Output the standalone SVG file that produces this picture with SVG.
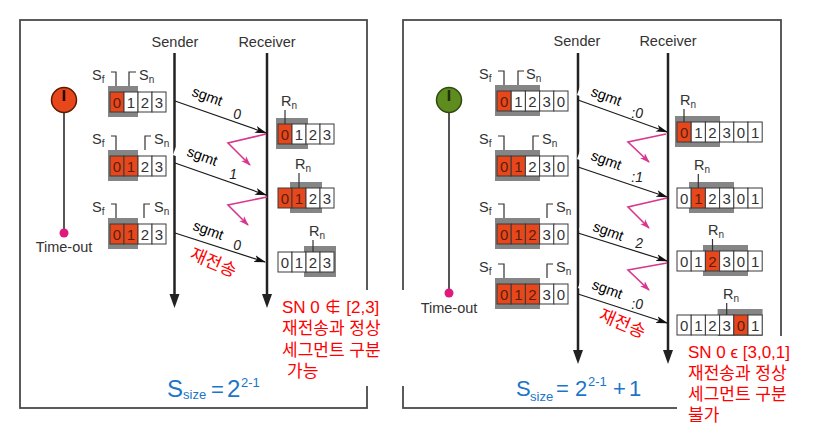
<svg xmlns="http://www.w3.org/2000/svg" width="818" height="442" viewBox="0 0 818 442">
<defs>
<marker id="ah" markerWidth="12" markerHeight="8" refX="11" refY="4" orient="auto" markerUnits="userSpaceOnUse"><path d="M0,0.5 L12,4 L0,7.5 L3,4 z" fill="#111"/></marker>
<marker id="am" markerWidth="10" markerHeight="8" refX="9" refY="4" orient="auto" markerUnits="userSpaceOnUse"><path d="M0,0.5 L10,4 L0,7.5 L2.5,4 z" fill="#d9368f"/></marker>
</defs>
<style>
.panel{fill:none;stroke:#4a4a4a;stroke-width:1.8}
.lbl{font-family:"Liberation Sans",Arial,sans-serif;fill:#333;font-size:14.5px}
.lblm{font-family:"Liberation Sans",Arial,sans-serif;fill:#333;font-size:14.5px;text-anchor:middle}
.sub{font-size:10px}
.dig{font-family:"Liberation Sans",Arial,sans-serif;font-size:15px;fill:#333;text-anchor:middle}
.dr{fill:#5a1e0e}
.box{fill:#fff;stroke:#3a3a3a;stroke-width:1}
.rb{fill:#e8471b;stroke:#3a3a3a;stroke-width:1}
.win{fill:#858585}
.brk{fill:none;stroke:#333;stroke-width:1.2}
.life{stroke:#222;stroke-width:2.5}
.head{fill:#222}
.seg{stroke:#1a1a1a;stroke-width:1.2;fill:none;marker-end:url(#ah)}
.ack{stroke:#d9368f;stroke-width:1.6;fill:none;marker-end:url(#am)}
.sg{font-family:"Liberation Sans",Arial,sans-serif;font-size:14.5px;fill:#000;text-anchor:middle}
.num{font-family:"Liberation Sans",Arial,sans-serif;font-size:14px;font-style:italic;fill:#222;text-anchor:end}
.kr{font-family:"Liberation Sans","Noto Sans CJK KR",sans-serif;fill:#ff0000;font-size:17px}
.krs{font-family:"Noto Sans CJK KR",sans-serif;fill:#ff0000;font-size:17.5px;text-anchor:middle}
.blue{font-family:"Liberation Sans",Arial,sans-serif;fill:#1b75c9}
.tl{stroke:#555;stroke-width:2}
.dot{fill:#e0197d}
.wb{fill:#fff}
</style>

<!-- panels -->
<rect class="panel" x="20" y="20" width="347" height="388"/>
<rect class="panel" x="403" y="20" width="378" height="388"/>

<!-- ============ LEFT PANEL ============ -->
<g id="left-timer">
<line class="tl" x1="64" y1="110" x2="64" y2="233"/>
<circle cx="64" cy="100" r="12.5" fill="#e8471b" stroke="#5a1a00" stroke-width="1.5"/>
<line x1="64" y1="90" x2="64" y2="101" stroke="#2a0a00" stroke-width="2.5"/>
<circle class="dot" cx="64" cy="233" r="4.5"/>
<text class="lblm" x="64" y="252">Time-out</text>
</g>

<g id="left-sender">
<text class="lblm" x="175" y="47">Sender</text>
<line class="life" x1="174.5" y1="53" x2="174.5" y2="296"/>
<polygon class="head" points="169.5,294 179.5,294 174.5,308"/>
</g>
<g id="left-receiver">
<text class="lblm" x="267" y="47">Receiver</text>
<line class="life" x1="267" y1="53" x2="267" y2="296"/>
<polygon class="head" points="262,294 272,294 267,308"/>
</g>

<g id="left-sw1">
<rect class="win" x="108" y="86" width="30" height="31"/>
<rect class="rb" x="110" y="92" width="14" height="20"/><rect class="box" x="124" y="92" width="14" height="20"/><rect class="box" x="138" y="92" width="14" height="20"/><rect class="box" x="152" y="92" width="14" height="20"/>
<text class="dig" y="107.5"><tspan class="dr" x="117">0</tspan><tspan x="131">1</tspan><tspan x="145">2</tspan><tspan x="159">3</tspan></text>
<path class="brk" d="M111,72 H116 V86"/><path class="brk" d="M136,72 H129 V86"/>
<text class="lbl" x="92" y="80">S<tspan class="sub" dy="3">f</tspan></text>
<text class="lbl" x="139" y="80">S<tspan class="sub" dy="3">n</tspan></text>
</g>
<g id="left-sw2">
<rect class="win" x="108" y="150" width="30" height="31"/>
<rect class="rb" x="110" y="156" width="14" height="20"/><rect class="rb" x="124" y="156" width="14" height="20"/><rect class="box" x="138" y="156" width="14" height="20"/><rect class="box" x="152" y="156" width="14" height="20"/>
<text class="dig" y="171.5"><tspan class="dr" x="117">0</tspan><tspan class="dr" x="131">1</tspan><tspan x="145">2</tspan><tspan x="159">3</tspan></text>
<path class="brk" d="M111,136 H116 V150"/><path class="brk" d="M151,136 H145 V150"/>
<text class="lbl" x="92" y="144">S<tspan class="sub" dy="3">f</tspan></text>
<text class="lbl" x="154" y="144">S<tspan class="sub" dy="3">n</tspan></text>
</g>
<g id="left-sw3">
<rect class="win" x="108" y="218" width="30" height="31"/>
<rect class="rb" x="110" y="224" width="14" height="20"/><rect class="rb" x="124" y="224" width="14" height="20"/><rect class="box" x="138" y="224" width="14" height="20"/><rect class="box" x="152" y="224" width="14" height="20"/>
<text class="dig" y="239.5"><tspan class="dr" x="117">0</tspan><tspan class="dr" x="131">1</tspan><tspan x="145">2</tspan><tspan x="159">3</tspan></text>
<path class="brk" d="M111,204 H116 V218"/><path class="brk" d="M150,204 H144 V218"/>
<text class="lbl" x="92" y="212">S<tspan class="sub" dy="3">f</tspan></text>
<text class="lbl" x="154" y="212">S<tspan class="sub" dy="3">n</tspan></text>
</g>

<g id="left-rw1">
<rect class="win" x="276" y="118" width="32" height="31"/>
<rect class="rb" x="278" y="124" width="14" height="20"/><rect class="box" x="292" y="124" width="14" height="20"/><rect class="box" x="306" y="124" width="14" height="20"/><rect class="box" x="320" y="124" width="14" height="20"/>
<text class="dig" y="139.5"><tspan class="dr" x="285">0</tspan><tspan x="299">1</tspan><tspan x="313">2</tspan><tspan x="327">3</tspan></text>
<path class="brk" d="M285,110 V124"/>
<text class="lbl" x="281" y="106">R<tspan class="sub" dy="3">n</tspan></text>
</g>
<g id="left-rw2">
<rect class="win" x="290" y="182" width="32" height="31"/>
<rect class="rb" x="278" y="188" width="14" height="20"/><rect class="rb" x="292" y="188" width="14" height="20"/><rect class="box" x="306" y="188" width="14" height="20"/><rect class="box" x="320" y="188" width="14" height="20"/>
<text class="dig" y="203.5"><tspan class="dr" x="285">0</tspan><tspan class="dr" x="299">1</tspan><tspan x="313">2</tspan><tspan x="327">3</tspan></text>
<path class="brk" d="M299,173 V188"/>
<text class="lbl" x="295" y="169">R<tspan class="sub" dy="3">n</tspan></text>
</g>
<g id="left-rw3">
<rect class="win" x="304" y="246" width="32" height="31"/>
<rect class="box" x="278" y="252" width="14" height="20"/><rect class="box" x="292" y="252" width="14" height="20"/><rect class="box" x="306" y="252" width="14" height="20"/><rect class="box" x="320" y="252" width="14" height="20"/>
<text class="dig" y="267.5"><tspan x="285">0</tspan><tspan x="299">1</tspan><tspan x="313">2</tspan><tspan x="327">3</tspan></text>
<path class="brk" d="M313,240 V252"/>
<text class="lbl" x="309" y="236">R<tspan class="sub" dy="3">n</tspan></text>
</g>

<!-- ============ RIGHT PANEL ============ -->
<g id="right-timer">
<line class="tl" x1="449" y1="110" x2="449" y2="293"/>
<circle cx="449" cy="100" r="12.5" fill="#5e8c1f" stroke="#2f4a10" stroke-width="1.5"/>
<line x1="449" y1="90" x2="449" y2="101" stroke="#1f2f08" stroke-width="2.5"/>
<circle class="dot" cx="449" cy="293" r="4.5"/>
<text class="lblm" x="449" y="313">Time-out</text>
</g>

<g id="right-sender">
<text class="lblm" x="577" y="46">Sender</text>
<line class="life" x1="578" y1="53" x2="578" y2="352"/>
<polygon class="head" points="573,350 583,350 578,364"/>
</g>
<g id="right-receiver">
<text class="lblm" x="668" y="46">Receiver</text>
<line class="life" x1="668" y1="53" x2="668" y2="352"/>
<polygon class="head" points="663,350 673,350 668,364"/>
</g>

<g id="right-sw1">
<rect class="win" x="495" y="85" width="45" height="31"/>
<rect class="rb" x="497" y="91" width="14.2" height="20"/><rect class="box" x="511.2" y="91" width="14.2" height="20"/><rect class="box" x="525.4" y="91" width="14.2" height="20"/><rect class="box" x="539.6" y="91" width="14.2" height="20"/><rect class="box" x="553.8" y="91" width="14.2" height="20"/>
<text class="dig" y="106.5"><tspan class="dr" x="504.1">0</tspan><tspan x="518.3">1</tspan><tspan x="532.5">2</tspan><tspan x="546.7">3</tspan><tspan x="560.9">0</tspan></text>
<path class="brk" d="M498,71 H504 V85"/><path class="brk" d="M524,71 H518 V85"/>
<text class="lbl" x="479" y="79">S<tspan class="sub" dy="3">f</tspan></text>
<text class="lbl" x="526" y="79">S<tspan class="sub" dy="3">n</tspan></text>
</g>
<g id="right-sw2">
<rect class="win" x="495" y="150" width="45" height="31"/>
<rect class="rb" x="497" y="156" width="14.2" height="20"/><rect class="rb" x="511.2" y="156" width="14.2" height="20"/><rect class="box" x="525.4" y="156" width="14.2" height="20"/><rect class="box" x="539.6" y="156" width="14.2" height="20"/><rect class="box" x="553.8" y="156" width="14.2" height="20"/>
<text class="dig" y="171.5"><tspan class="dr" x="504.1">0</tspan><tspan class="dr" x="518.3">1</tspan><tspan x="532.5">2</tspan><tspan x="546.7">3</tspan><tspan x="560.9">0</tspan></text>
<path class="brk" d="M498,136 H504 V150"/><path class="brk" d="M539,136 H533 V150"/>
<text class="lbl" x="479" y="144">S<tspan class="sub" dy="3">f</tspan></text>
<text class="lbl" x="542" y="144">S<tspan class="sub" dy="3">n</tspan></text>
</g>
<g id="right-sw3">
<rect class="win" x="495" y="218" width="45" height="31"/>
<rect class="rb" x="497" y="224" width="14.2" height="20"/><rect class="rb" x="511.2" y="224" width="14.2" height="20"/><rect class="rb" x="525.4" y="224" width="14.2" height="20"/><rect class="box" x="539.6" y="224" width="14.2" height="20"/><rect class="box" x="553.8" y="224" width="14.2" height="20"/>
<text class="dig" y="239.5"><tspan class="dr" x="504.1">0</tspan><tspan class="dr" x="518.3">1</tspan><tspan class="dr" x="532.5">2</tspan><tspan x="546.7">3</tspan><tspan x="560.9">0</tspan></text>
<path class="brk" d="M498,204 H504 V218"/><path class="brk" d="M553,204 H547 V218"/>
<text class="lbl" x="479" y="212">S<tspan class="sub" dy="3">f</tspan></text>
<text class="lbl" x="556" y="212">S<tspan class="sub" dy="3">n</tspan></text>
</g>
<g id="right-sw4">
<rect class="win" x="495" y="278" width="45" height="31"/>
<rect class="rb" x="497" y="284" width="14.2" height="20"/><rect class="rb" x="511.2" y="284" width="14.2" height="20"/><rect class="rb" x="525.4" y="284" width="14.2" height="20"/><rect class="box" x="539.6" y="284" width="14.2" height="20"/><rect class="box" x="553.8" y="284" width="14.2" height="20"/>
<text class="dig" y="299.5"><tspan class="dr" x="504.1">0</tspan><tspan class="dr" x="518.3">1</tspan><tspan class="dr" x="532.5">2</tspan><tspan x="546.7">3</tspan><tspan x="560.9">0</tspan></text>
<path class="brk" d="M498,264 H504 V278"/><path class="brk" d="M553,264 H547 V278"/>
<text class="lbl" x="479" y="272">S<tspan class="sub" dy="3">f</tspan></text>
<text class="lbl" x="556" y="272">S<tspan class="sub" dy="3">n</tspan></text>
</g>

<g id="right-rw1">
<rect class="win" x="675" y="116" width="45" height="31"/>
<rect class="rb" x="677" y="122" width="14.2" height="20"/><rect class="box" x="691.2" y="122" width="14.2" height="20"/><rect class="box" x="705.4" y="122" width="14.2" height="20"/><rect class="box" x="719.6" y="122" width="14.2" height="20"/><rect class="box" x="733.8" y="122" width="14.2" height="20"/><rect class="box" x="748" y="122" width="14.2" height="20"/>
<text class="dig" y="137.5"><tspan class="dr" x="684.1">0</tspan><tspan x="698.3">1</tspan><tspan x="712.5">2</tspan><tspan x="726.7">3</tspan><tspan x="740.9">0</tspan><tspan x="755.1">1</tspan></text>
<path class="brk" d="M684,109 V122"/>
<text class="lbl" x="680" y="105">R<tspan class="sub" dy="3">n</tspan></text>
</g>
<g id="right-rw2">
<rect class="win" x="689" y="182" width="45" height="31"/>
<rect class="box" x="677" y="188" width="14.2" height="20"/><rect class="rb" x="691.2" y="188" width="14.2" height="20"/><rect class="box" x="705.4" y="188" width="14.2" height="20"/><rect class="box" x="719.6" y="188" width="14.2" height="20"/><rect class="box" x="733.8" y="188" width="14.2" height="20"/><rect class="box" x="748" y="188" width="14.2" height="20"/>
<text class="dig" y="203.5"><tspan x="684.1">0</tspan><tspan class="dr" x="698.3">1</tspan><tspan x="712.5">2</tspan><tspan x="726.7">3</tspan><tspan x="740.9">0</tspan><tspan x="755.1">1</tspan></text>
<path class="brk" d="M698.3,174 V188"/>
<text class="lbl" x="694" y="170">R<tspan class="sub" dy="3">n</tspan></text>
</g>
<g id="right-rw3">
<rect class="win" x="703" y="245" width="45" height="31"/>
<rect class="box" x="677" y="251" width="14.2" height="20"/><rect class="box" x="691.2" y="251" width="14.2" height="20"/><rect class="rb" x="705.4" y="251" width="14.2" height="20"/><rect class="box" x="719.6" y="251" width="14.2" height="20"/><rect class="box" x="733.8" y="251" width="14.2" height="20"/><rect class="box" x="748" y="251" width="14.2" height="20"/>
<text class="dig" y="266.5"><tspan x="684.1">0</tspan><tspan x="698.3">1</tspan><tspan class="dr" x="712.5">2</tspan><tspan x="726.7">3</tspan><tspan x="740.9">0</tspan><tspan x="755.1">1</tspan></text>
<path class="brk" d="M712.5,239 V251"/>
<text class="lbl" x="708" y="235">R<tspan class="sub" dy="3">n</tspan></text>
</g>
<g id="right-rw4">
<rect class="win" x="717.6" y="309" width="45" height="31"/>
<rect class="box" x="677" y="315" width="14.2" height="20"/><rect class="box" x="691.2" y="315" width="14.2" height="20"/><rect class="box" x="705.4" y="315" width="14.2" height="20"/><rect class="box" x="719.6" y="315" width="14.2" height="20"/><rect class="rb" x="733.8" y="315" width="14.2" height="20"/><rect class="box" x="748" y="315" width="14.2" height="20"/>
<text class="dig" y="330.5"><tspan x="684.1">0</tspan><tspan x="698.3">1</tspan><tspan x="712.5">2</tspan><tspan x="726.7">3</tspan><tspan class="dr" x="740.9">0</tspan><tspan x="755.1">1</tspan></text>
<path class="brk" d="M726.7,303 V315"/>
<text class="lbl" x="723" y="299">R<tspan class="sub" dy="3">n</tspan></text>
</g>

<!-- ============ CONNECTORS ============ -->
<g id="connectors">
<path class="seg" d="M175,101 L266,133"/>
<path class="seg" d="M175,163 L266,195"/>
<path class="seg" d="M175,233 L265,262"/>
<path class="ack" d="M266,134 L228,143 L250,165"/>
<path class="ack" d="M267,197 L228,205 L248,225"/>
<path class="seg" d="M578,100 L667,132"/>
<path class="seg" d="M578,167 L667,197"/>
<path class="seg" d="M578,233 L667,261"/>
<path class="seg" d="M578,294 L667,323"/>
<path class="ack" d="M666,134 L628,142 L649,162"/>
<path class="ack" d="M667,198 L628,207 L649,228"/>
<path class="ack" d="M667,263 L628,270 L649,290"/>

<g transform="translate(207,97) rotate(20)"><rect class="wb" x="-28" y="-10" width="52" height="17"/><text class="sg" y="4">sgmt</text></g>
<g transform="translate(202,157) rotate(20)"><rect class="wb" x="-28" y="-10" width="52" height="18"/><text class="sg" y="4">sgmt</text></g>
<g transform="translate(208,231) rotate(20)"><rect class="wb" x="-28" y="-10" width="52" height="17"/><text class="sg" y="4">sgmt</text></g>
<g transform="translate(606,97) rotate(20)"><rect class="wb" x="-28" y="-10" width="52" height="18"/><text class="sg" y="4">sgmt</text></g>
<g transform="translate(606,161) rotate(20)"><rect class="wb" x="-28" y="-10" width="52" height="18"/><text class="sg" y="4">sgmt</text></g>
<g transform="translate(608,232) rotate(20)"><rect class="wb" x="-28" y="-10" width="52" height="18"/><text class="sg" y="4">sgmt</text></g>
<g transform="translate(607,290) rotate(20)"><rect class="wb" x="-28" y="-10" width="52" height="18"/><text class="sg" y="4">sgmt</text></g>

<text class="num" x="241" y="119">0</text>
<text class="num" x="237" y="179">1</text>
<text class="num" x="241" y="250">0</text>
<text class="num" x="643" y="118">:0</text>
<text class="num" x="643" y="182">:1</text>
<text class="num" x="643" y="248">2</text>
<text class="num" x="643" y="309">:0</text>

<text class="krs" transform="translate(211,268) rotate(23)">재전송</text>
<text class="krs" transform="translate(620,329) rotate(23)">재전송</text>
</g>

<!-- ============ ANNOTATIONS ============ -->
<rect class="wb" x="272" y="290" width="138" height="96"/>
<rect class="wb" x="677" y="336" width="141" height="106"/>

<g id="left-note">
<text class="kr" x="282" y="313" font-size="16">SN 0 ∉ [2,3]</text>
<text class="kr" x="282" y="334">재전송과 정상</text>
<text class="kr" x="282" y="356">세그먼트 구분</text>
<text class="kr" x="287" y="377">가능</text>
</g>
<g id="right-note">
<text class="kr" x="688" y="358" font-size="16">SN 0 ϵ [3,0,1]</text>
<text class="kr" x="688" y="379">재전송과 정상</text>
<text class="kr" x="688" y="400">세그먼트 구분</text>
<text class="kr" x="688" y="421">불가</text>
</g>

<g id="left-size">
<text class="blue"><tspan x="167" y="397" font-size="24">S</tspan><tspan x="183" y="399" font-size="13">size</tspan><tspan x="211" y="397" font-size="22">=</tspan><tspan x="227" y="397" font-size="24">2</tspan><tspan x="241" y="387" font-size="13">2-1</tspan></text>
</g>
<g id="right-size">
<text class="blue"><tspan x="516" y="396" font-size="22">S</tspan><tspan x="530" y="401" font-size="13">size</tspan><tspan x="556" y="396" font-size="22">=</tspan><tspan x="575" y="396" font-size="22">2</tspan><tspan x="588" y="386" font-size="13">2-1</tspan><tspan x="613" y="396" font-size="22">+</tspan><tspan x="629" y="396" font-size="22">1</tspan></text>
</g>
</svg>
